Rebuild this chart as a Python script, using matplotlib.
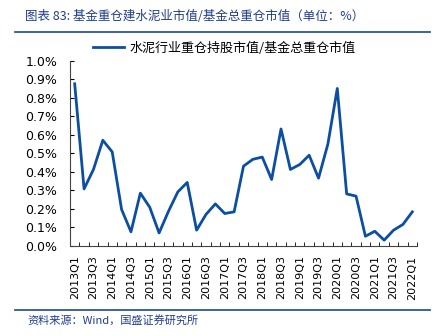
import numpy as np
import matplotlib
matplotlib.use('Agg')
import matplotlib.pyplot as plt
from matplotlib.lines import Line2D

# Quarterly categories, 2013Q1 .. 2022Q1
quarters = [f'{y}Q{q}' for y in range(2013, 2023) for q in range(1, 5)][:37]

# Cement industry share of fund heavy holdings (%)
share = [0.875, 0.307, 0.412, 0.570, 0.507, 0.196, 0.075, 0.284, 0.208, 0.069,
         0.186, 0.291, 0.342, 0.084, 0.169, 0.226, 0.174, 0.183, 0.430, 0.467,
         0.479, 0.358, 0.631, 0.412, 0.439, 0.489, 0.365, 0.550, 0.850, 0.280,
         0.268, 0.051, 0.078, 0.030, 0.084, 0.115, 0.183]

series_name = '水泥行业重仓持股市值/基金总重仓市值'
title = '图表 83: 基金重仓建水泥业市值/基金总重仓市值（单位：%）'
source = '资料来源：Wind，国盛证券研究所'

cjk = ['Noto Sans CJK SC', 'DejaVu Sans']
line_color = '#0B4EA2'
text_blue = '#1F3D8C'

W, H = 441, 336
fig = plt.figure(figsize=(W / 100, H / 100), dpi=100)
ax = fig.add_axes([70 / W, 1 - 245.7 / H, (417 - 70) / W, (245.7 - 60.7) / H])

x = np.arange(len(share))
ln, = ax.plot(x, share, color=line_color, lw=2.0, label=series_name)

ax.set_xlim(-0.5, len(share) - 0.5)
ax.set_ylim(0, 1.0)

ax.set_yticks(np.arange(0, 1.01, 0.1))
ax.set_yticklabels([f'{v:.1f}%' for v in np.arange(0, 1.01, 0.1)], fontsize=9)
ax.tick_params(axis='y', direction='in', length=3, pad=9, colors='black')

ax.set_xticks(x[::2])
ax.set_xticklabels(quarters[::2], rotation=90, fontsize=8)
ax.set_xticks(np.arange(-0.5, len(share), 1), minor=True)
ax.tick_params(axis='x', which='major', length=0, pad=7)
ax.tick_params(axis='x', which='minor', direction='in', length=3)

for s in ['top', 'right']:
    ax.spines[s].set_visible(False)
for s in ['left', 'bottom']:
    ax.spines[s].set_color('#444444')
    ax.spines[s].set_linewidth(0.8)

fig.legend(handles=[ln], loc='center left', bbox_to_anchor=(93 / W, 1 - 48 / H),
           frameon=False, borderpad=0, borderaxespad=0, handlelength=2.4,
           handletextpad=0.4, prop={'family': cjk, 'size': 9.4})

# title, rules and source
fig.text(25 / W, 1 - 16 / H, title, color=text_blue, fontsize=9, va='center',
         ha='left', family=cjk, style='italic')
fig.add_artist(Line2D([15 / W, 430 / W], [1 - 31.5 / H] * 2, color='#2F5597', lw=1.3))
fig.add_artist(Line2D([15 / W, 430 / W], [1 - 309.5 / H] * 2, color='#2F5597', lw=1.3))
fig.text(27 / W, 1 - 320 / H, source, color=text_blue, fontsize=8, va='center',
         ha='left', family=cjk, style='italic')

fig.savefig('out.png', dpi=100)
